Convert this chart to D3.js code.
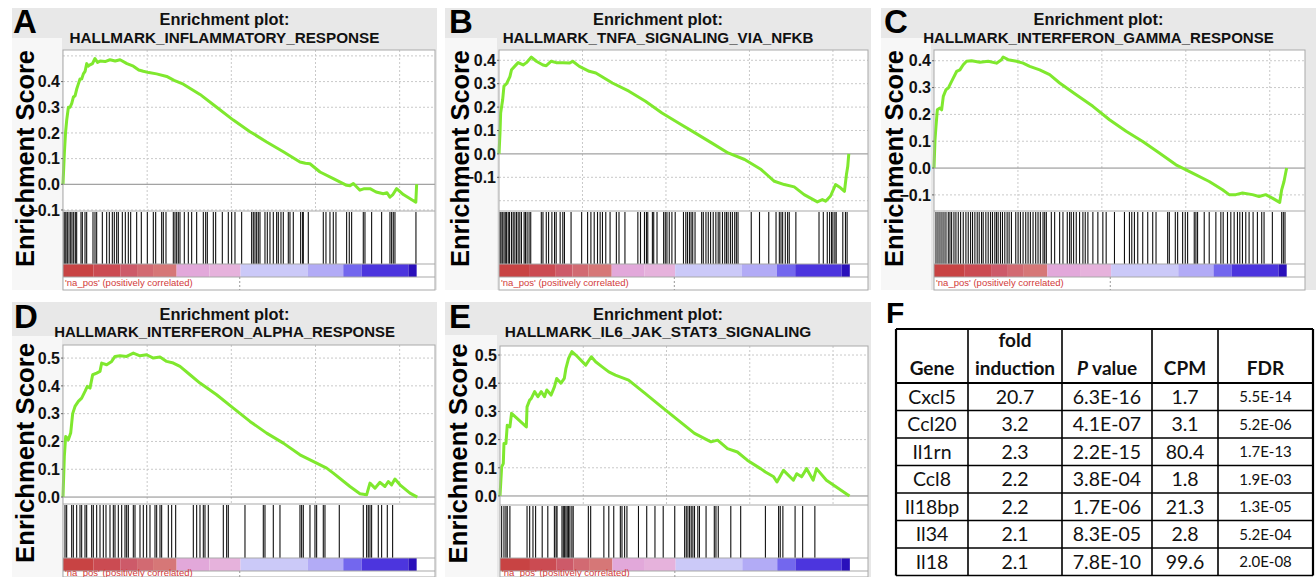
<!DOCTYPE html>
<html><head><meta charset="utf-8">
<script src="https://cdn.jsdelivr.net/npm/d3@7"></script>
<style>body{margin:0;background:#fff}svg{display:block}</style>
</head><body><svg id="c" width="1316" height="577"></svg>
<script>
// ---------------- DATA ----------------
const xGridRanks = [5000, 10000, 15000, 20000];
const rankMax = 22100;
const zeroCross = 10500;

const titleLine1 = "Enrichment plot:";
const titlesHallmark = ["HALLMARK_INFLAMMATORY_RESPONSE","HALLMARK_TNFA_SIGNALING_VIA_NFKB","HALLMARK_INTERFERON_GAMMA_RESPONSE","HALLMARK_INTERFERON_ALPHA_RESPONSE","HALLMARK_IL6_JAK_STAT3_SIGNALING"];
const panelLetters = ["A","B","C","D","E"];
const phenotypeLabel = "'na_pos' (positively correlated)";

// colour bar of the ranked list (rank boundaries and colours)
const barStops  = [0, 1800, 3400, 4400, 5350, 6750, 8700, 10550, 14550, 16650, 17740, 20520, 21010];
const barColors = ["#c84343","#cb4b52","#cd5a69","#d26a72","#d67777","#e2a8da","#e6b2dc","#cbc9f8","#b2abf6","#7367ee","#4c35de","#2a10bb"];

const curveA = [[0,0],[80,0.12],[150,0.2],[220,0.25],[320,0.30],[420,0.30],[520,0.315],[620,0.34],[720,0.345],[810,0.37],[910,0.39],[1010,0.41],[1110,0.41],[1210,0.43],[1310,0.44],[1410,0.47],[1500,0.46],[1600,0.465],[1750,0.47],[1900,0.49],[2050,0.475],[2200,0.48],[2500,0.478],[2790,0.485],[3100,0.48],[3390,0.485],[3800,0.47],[4180,0.46],[4500,0.445],[4770,0.44],[5100,0.435],[5560,0.43],[6160,0.42],[6600,0.405],[7150,0.39],[8140,0.35],[9130,0.30],[10120,0.25],[11110,0.205],[12100,0.165],[13090,0.127],[14080,0.087],[14400,0.082],[14670,0.08],[15270,0.048],[16060,0.022],[16850,-0.004],[17050,-0.006],[17250,0.003],[17640,-0.023],[17900,-0.017],[18240,-0.017],[18600,-0.03],[19030,-0.037],[19250,-0.033],[19420,-0.05],[19600,-0.04],[19820,-0.017],[20220,-0.04],[20960,-0.07],[21010,0]];
const curveB = [[0,0],[59,0.09],[99,0.175],[217,0.23],[297,0.29],[455,0.30],[653,0.33],[752,0.36],[950,0.375],[1148,0.39],[1445,0.38],[1643,0.39],[1940,0.414],[2237,0.396],[2633,0.38],[2831,0.377],[3128,0.396],[3425,0.39],[3821,0.39],[4217,0.388],[4415,0.396],[4811,0.374],[5405,0.353],[5801,0.346],[6791,0.303],[7781,0.268],[8771,0.225],[9761,0.175],[10751,0.132],[11741,0.09],[12731,0.047],[13721,0.004],[14711,-0.024],[15701,-0.067],[16493,-0.117],[17087,-0.131],[17681,-0.141],[18275,-0.174],[19067,-0.205],[19364,-0.195],[19562,-0.202],[19859,-0.18],[20156,-0.131],[20453,-0.145],[20690,-0.16],[20809,-0.088],[20888,-0.053],[20948,0]];
const curveC = [[0,0],[59,0.105],[118,0.155],[198,0.217],[356,0.224],[455,0.217],[554,0.267],[712,0.292],[851,0.298],[1049,0.323],[1346,0.36],[1544,0.366],[1742,0.385],[1940,0.398],[2237,0.40],[2732,0.394],[3227,0.398],[3722,0.391],[4019,0.404],[4118,0.414],[4415,0.404],[4910,0.398],[5306,0.391],[5702,0.379],[6296,0.366],[6890,0.348],[7484,0.317],[8474,0.273],[9464,0.23],[10454,0.18],[11444,0.137],[12434,0.099],[13424,0.056],[14414,0.012],[14810,0],[15404,-0.019],[16394,-0.05],[17186,-0.081],[17582,-0.099],[17978,-0.099],[18374,-0.093],[18968,-0.099],[19364,-0.106],[19760,-0.099],[20156,-0.112],[20592,-0.128],[20710,-0.081],[20849,-0.05],[21007,0]];
const curveD = [[0,0],[79,0.146],[159,0.218],[317,0.206],[456,0.23],[574,0.30],[713,0.326],[911,0.344],[1109,0.356],[1307,0.38],[1446,0.398],[1604,0.392],[1762,0.44],[2000,0.446],[2198,0.452],[2297,0.482],[2594,0.476],[2891,0.488],[3089,0.506],[3386,0.508],[3782,0.506],[4178,0.518],[4574,0.508],[4970,0.512],[5366,0.50],[5762,0.504],[6158,0.488],[6554,0.482],[6950,0.47],[7544,0.44],[8138,0.41],[9128,0.368],[10118,0.32],[11108,0.272],[12098,0.23],[13088,0.194],[14078,0.152],[15068,0.122],[15662,0.104],[16058,0.086],[17048,0.038],[17642,0.012],[18038,0.008],[18236,0.05],[18533,0.032],[18830,0.053],[19127,0.038],[19325,0.056],[19523,0.044],[19721,0.065],[20018,0.044],[20612,0.014],[21048,0]];
const curveE = [[0,0],[99,0.103],[198,0.115],[238,0.186],[356,0.186],[436,0.251],[594,0.245],[693,0.293],[1584,0.245],[1624,0.316],[1782,0.34],[1881,0.346],[2079,0.37],[2277,0.352],[2475,0.37],[2673,0.352],[2812,0.376],[3069,0.358],[3267,0.387],[3406,0.417],[3663,0.40],[3861,0.417],[3960,0.453],[4118,0.488],[4316,0.512],[4554,0.50],[5148,0.464],[5485,0.494],[5742,0.476],[6138,0.458],[6534,0.44],[6930,0.429],[7722,0.411],[8712,0.364],[9702,0.316],[10692,0.269],[11682,0.222],[12672,0.192],[13068,0.198],[13662,0.168],[14256,0.156],[14850,0.127],[15642,0.097],[15939,0.085],[16434,0.068],[16632,0.05],[17028,0.091],[17622,0.056],[17820,0.079],[18117,0.068],[18414,0.097],[18810,0.056],[19008,0.097],[19602,0.056],[20988,0]];

const hitsA = [60,119,178,258,357,456,535,634,733,812,1069,1149,1307,1406,1782,1901,2000,2337,2594,2752,2931,3049,3188,3287,3525,3703,3881,4020,4376,4653,5010,5366,5505,5861,5960,6118,6554,6653,6752,6851,6950,7207,7445,7643,7940,8336,8475,8574,8930,9069,9465,9821,10019,10217,10613,11207,11306,11405,11504,11603,11702,11999,12138,12296,12494,12692,12791,12949,13088,13385,13484,13682,14118,14236,14276,14573,15464,15622,15860,16058,16216,16850,17008,17147,17840,17939,18335,18929,19424,19523,19622,19721,20968];
const hitsB = [59,118,198,297,376,455,554,633,752,851,950,1049,1148,1247,1346,1504,1584,1683,1801,1900,2534,2633,2831,2970,3168,3326,3425,3663,3821,3920,4316,4950,5306,5504,5702,5900,6058,6197,6395,6652,7029,7187,7543,8316,8474,8712,8830,8910,9187,9266,9464,9860,9959,10058,10197,10355,10553,11048,11187,11286,11404,11503,11602,11741,12137,12236,12394,12533,12672,12830,12988,13127,13226,13384,13523,13622,13721,13860,13978,14117,14216,14315,15107,15602,16156,16592,16790,16889,16988,17146,17285,17384,17780,19166,19423,19661,19800,19918,19998,20116,20195,20591,20750,20849];
const hitsC = [118,237,356,475,594,712,851,950,1049,1188,1306,1445,1584,1742,1900,2039,2178,2296,2435,2574,2692,2831,2930,3088,3227,3366,3484,3623,3722,3821,3960,4078,4217,4356,4474,4613,4870,5009,5148,5306,5464,5603,5742,5900,6058,6197,6336,6494,6593,6692,6989,7187,7484,7682,7939,8078,8177,8316,8474,8672,8870,9009,9167,9464,9761,10058,10256,10751,11345,11642,11781,11939,12137,12434,12731,13028,13226,13919,14018,14374,14513,14810,14968,15107,15503,15602,15701,16097,16394,16790,17087,17226,17483,17681,17879,18077,18216,18374,18572,18770,19008,19265,19522,19661,20156,20710,20809,20908];
const hitsD = [119,218,515,614,812,1010,1109,1307,1406,1703,1802,2000,2198,2396,2554,2792,2990,3089,3287,3485,3683,3782,3881,4178,4277,4574,4772,4970,5168,5465,5564,5762,5861,6257,6455,6693,7742,7940,8138,8336,8435,8633,9524,9722,9821,10811,11900,11999,12494,12890,14078,14177,14276,14672,14969,15068,15464,15563,16414,17840,18038,18137,18236,18335,18731,18929,19266,19582];
const hitsE = [99,238,356,436,594,1624,1782,1980,2138,2534,2871,3267,3366,3425,3722,3802,3881,3960,4039,4118,4198,4316,4396,5306,5445,6237,6534,6831,7227,7326,7484,7623,8316,8811,9306,9801,10494,11088,11187,11286,11385,11484,11583,11682,11880,11979,12375,12870,12969,13108,13860,14454,15939,16731,16830,16988,17721,18176,18909];

const yTicksA = [-0.1,0,0.1,0.2,0.3,0.4];
const yTicksB = [-0.1,0,0.1,0.2,0.3,0.4];
const yTicksC = [-0.1,0,0.1,0.2,0.3,0.4];
const yTicksD = [0,0.1,0.2,0.3,0.4,0.5];
const yTicksE = [0,0.1,0.2,0.3,0.4,0.5];
const yGridA = [-0.1,0.1,0.2,0.3,0.4,0.5];
const yGridB = [-0.2,-0.1,0.1,0.2,0.3,0.4];
const yGridC = [-0.1,0.1,0.2,0.3,0.4];
const yGridD = [0.1,0.2,0.3,0.4,0.5];
const yGridE = [0.1,0.2,0.3,0.4,0.5];

// Table F
const tableHeader = ["Gene","fold induction","P value","CPM","FDR"];
const tableGenes = ["Cxcl5","Ccl20","Il1rn","Ccl8","Il18bp","Il34","Il18"];
const tableFold  = ["20.7","3.2","2.3","2.2","2.2","2.1","2.1"];
const tablePval  = ["6.3E-16","4.1E-07","2.2E-15","3.8E-04","1.7E-06","8.3E-05","7.8E-10"];
const tableCPM   = ["1.7","3.1","80.4","1.8","21.3","2.8","99.6"];
const tableFDR   = ["5.5E-14","5.2E-06","1.7E-13","1.9E-03","1.3E-05","5.2E-04","2.0E-08"];

// ---------------- LAYOUT ----------------
const svg = d3.select("#c");
const FONT = "'Liberation Sans', Arial, sans-serif";

const layouts = [
  {box:[12,8,437,290], strip:[12,38,62,290], L:63, R:435, T:50, esB:211, hitB:264, barB:277, bot:290, yDom:[-0.104,0.523], letter:[13,33], labX:25, tY:[25,43], curve:curveA, hits:hitsA, ticks:yTicksA, grid:yGridA, tw:310, lw:217},
  {box:[445,8,871,290], strip:[445,38,497,290], L:499, R:868, T:50, esB:211, hitB:264, barB:277, bot:290, yDom:[-0.244,0.444], letter:[449,33], labX:460, tY:[25,43], curve:curveB, hits:hitsB, ticks:yTicksB, grid:yGridB, tw:311, lw:217},
  {box:[881,8,1316,290], strip:[881,38,931,290], L:934, R:1305, T:50, esB:211, hitB:264, barB:277, bot:290, yDom:[-0.16,0.44], letter:[884,33], labX:894, tY:[25,43], curve:curveC, hits:hitsC, ticks:yTicksC, grid:yGridC, tw:351, lw:217},
  {box:[12,302,437,577], strip:[12,336,62,577], L:63, R:435, T:345, esB:504, hitB:558, barB:571, bot:590, yDom:[-0.025,0.547], letter:[14,328], labX:25, tY:[320,337], curve:curveD, hits:hitsD, ticks:yTicksD, grid:yGridD, tw:341, lw:220},
  {box:[445,302,871,577], strip:[445,335,497,577], L:500, R:868, T:346, esB:505, hitB:558, barB:571, bot:590, yDom:[-0.032,0.532], letter:[449,328], labX:458, tY:[320,337], curve:curveE, hits:hitsE, ticks:yTicksE, grid:yGridE, tw:307, lw:220}
];

function fitText(sel, target){
  const w = sel.node().getComputedTextLength();
  const fs = parseFloat(sel.attr("font-size"));
  sel.attr("font-size", fs*target/w);
}

layouts.forEach((p,i)=>{
  const g = svg.append("g");
  g.append("rect").attr("x",p.box[0]).attr("y",p.box[1]).attr("width",p.box[2]-p.box[0]).attr("height",p.box[3]-p.box[1]).attr("fill","#e8e8e8");
  g.append("rect").attr("x",p.strip[0]).attr("y",p.strip[1]).attr("width",p.strip[2]-p.strip[0]).attr("height",p.strip[3]-p.strip[1]).attr("fill","#f7f7f7");
  const bottom = Math.min(p.bot, 577);
  g.append("rect").attr("x",p.L).attr("y",p.T).attr("width",p.R-p.L).attr("height",bottom-p.T).attr("fill","#fff");

  const x = d3.scaleLinear().domain([0,rankMax]).range([p.L,p.R]);
  const y = d3.scaleLinear().domain(p.yDom).range([p.esB,p.T]);

  // grids
  g.selectAll(null).data(p.grid).enter().append("line")
    .attr("x1",p.L).attr("x2",p.R).attr("y1",d=>y(d)).attr("y2",d=>y(d))
    .attr("stroke","#c9c9c9").attr("stroke-dasharray","2,2").attr("stroke-width",1);
  g.selectAll(null).data(xGridRanks).enter().append("line")
    .attr("x1",d=>x(d)).attr("x2",d=>x(d)).attr("y1",p.T).attr("y2",p.esB)
    .attr("stroke","#c9c9c9").attr("stroke-dasharray","2,2").attr("stroke-width",1);
  // zero line
  g.append("line").attr("x1",p.L).attr("x2",p.R).attr("y1",y(0)).attr("y2",y(0)).attr("stroke","#8a8a8a").attr("stroke-width",1);

  // ES curve
  g.append("path").datum(p.curve)
    .attr("d", d3.line().x(d=>x(d[0])).y(d=>y(d[1])))
    .attr("fill","none").attr("stroke","#7fe82e").attr("stroke-width",3).attr("stroke-linejoin","round");

  // hits
  g.selectAll(null).data(p.hits).enter().append("line")
    .attr("x1",d=>x(d)).attr("x2",d=>x(d)).attr("y1",p.esB+1).attr("y2",p.hitB)
    .attr("stroke","#111").attr("stroke-width",1.1);

  // colour bar
  g.selectAll(null).data(barColors).enter().append("rect")
    .attr("x",(d,k)=>x(barStops[k])).attr("width",(d,k)=>x(barStops[k+1])-x(barStops[k]))
    .attr("y",p.hitB).attr("height",p.barB-p.hitB).attr("fill",d=>d);

  // borders
  const bc = "#a9a9a9";
  [p.esB, p.hitB, p.barB].forEach(yy=>{
    g.append("line").attr("x1",p.L).attr("x2",p.R).attr("y1",yy).attr("y2",yy).attr("stroke",bc).attr("stroke-width",1);
  });
  g.append("rect").attr("x",p.L).attr("y",p.T).attr("width",p.R-p.L).attr("height",bottom-p.T)
    .attr("fill","none").attr("stroke",bc).attr("stroke-width",1);
  // zero cross marker
  g.append("line").attr("x1",x(zeroCross)).attr("x2",x(zeroCross)).attr("y1",p.barB).attr("y2",bottom)
    .attr("stroke","#999").attr("stroke-dasharray","2,2");
  g.append("text").attr("x",p.L+2).attr("y",Math.min(p.barB+9, 576)).attr("font-family",FONT).attr("font-size",9.5)
    .attr("fill","#d23a3a").text(phenotypeLabel);

  // tick labels
  g.selectAll(null).data(p.ticks).enter().append("text")
    .attr("x",p.L-3).attr("y",d=>y(d)).attr("dy","0.36em").attr("text-anchor","end")
    .attr("font-family",FONT).attr("font-weight","bold").attr("font-size",16).attr("fill","#111")
    .text(d=>d3.format(".1f")(d));
  // tiny tick marks
  g.selectAll(null).data(p.ticks).enter().append("line")
    .attr("x1",p.L-2).attr("x2",p.L).attr("y1",d=>y(d)).attr("y2",d=>y(d)).attr("stroke","#666");

  // titles
  const cx = (p.box[0]+p.box[2])/2;
  const t1 = g.append("text").attr("x",cx).attr("y",p.tY[0]).attr("text-anchor","middle")
    .attr("font-family",FONT).attr("font-weight","bold").attr("font-size",14).attr("fill","#111").text(titleLine1);
  const t2 = g.append("text").attr("x",cx).attr("y",p.tY[1]).attr("text-anchor","middle")
    .attr("font-family",FONT).attr("font-weight","bold").attr("font-size",14).attr("fill","#111").text(titlesHallmark[i]);
  fitText(t2, p.tw);
  fitText(t1, 130);

  // letter
  g.append("text").attr("x",p.letter[0]).attr("y",p.letter[1]).attr("font-family",FONT).attr("font-weight","bold")
    .attr("font-size",33).attr("fill","#000").text(panelLetters[i]);

  // y label
  const yl = g.append("text").attr("transform",`translate(${p.labX},${(p.T+p.hitB+3)/2}) rotate(-90)`)
    .attr("text-anchor","middle").attr("dy","0.36em")
    .attr("font-family",FONT).attr("font-weight","bold").attr("font-size",26).attr("fill","#000").text("Enrichment Score");
  fitText(yl, p.lw);
});

// ---------------- TABLE F ----------------
const colX = [896, 968, 1062, 1152, 1218, 1313];
const rowY = [329, 383, 410.5, 438, 465.5, 493, 520.5, 548, 575.5];
const TF = "Lato, 'Open Sans', sans-serif";
const tg = svg.append("g");
tg.append("text").attr("x",886).attr("y",323).attr("font-family",FONT).attr("font-weight","bold").attr("font-size",30).text("F");

const cols = [tableGenes, tableFold, tablePval, tableCPM, tableFDR];
cols.forEach((col,ci)=>{
  const cxm = (colX[ci]+colX[ci+1])/2;
  tg.selectAll(null).data(col).enter().append("text")
    .attr("x",cxm).attr("y",(d,ri)=>(rowY[ri+1]+rowY[ri+2])/2).attr("dy","0.36em")
    .attr("text-anchor","middle").attr("font-family",TF)
    .attr("font-size", ci===4?15:19.5).attr("fill","#111").text(d=>d);
});
// header
const hy = 368;
function hdr(ci, txt, yy){
  return tg.append("text").attr("x",(colX[ci]+colX[ci+1])/2).attr("y",yy).attr("dy","0.36em")
    .attr("text-anchor","middle").attr("font-family",TF).attr("font-weight","bold").attr("font-size",19).attr("fill","#111").text(txt);
}
hdr(0, tableHeader[0], hy);
const fi = tableHeader[1].split(" ");
hdr(1, fi[0], 340);
hdr(1, fi[1], hy);
const pv = hdr(2, "", hy);
pv.append("tspan").attr("font-style","italic").text(tableHeader[2].split(" ")[0]);
pv.append("tspan").text(" " + tableHeader[2].split(" ")[1]);
hdr(3, tableHeader[3], hy);
hdr(4, tableHeader[4], hy);

// grid lines
colX.forEach((cx,k)=>{
  tg.append("line").attr("x1",cx).attr("x2",cx).attr("y1",rowY[0]).attr("y2",rowY[8])
    .attr("stroke","#000").attr("stroke-width",(k===0||k===colX.length-1)?2.2:1.6);
});
rowY.forEach((ry,k)=>{
  tg.append("line").attr("x1",colX[0]).attr("x2",colX[5]).attr("y1",ry).attr("y2",ry)
    .attr("stroke","#000").attr("stroke-width",(k===0||k===1)?2.2:1.6);
});
</script></body></html>
